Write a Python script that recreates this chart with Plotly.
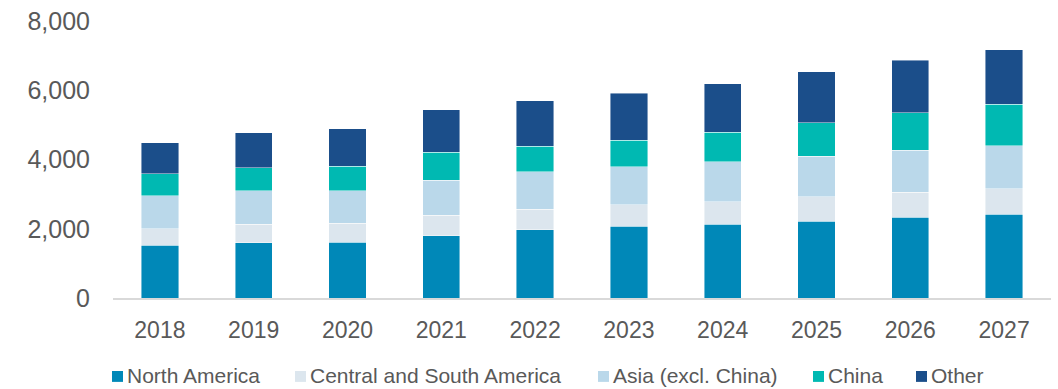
import plotly.graph_objects as go

# Annual volumes by region (stacked)
years = ["2018", "2019", "2020", "2021", "2022", "2023", "2024", "2025", "2026", "2027"]
north_america = [1530, 1595, 1614, 1794, 1966, 2071, 2129, 2223, 2329, 2414]
central_south_america = [475, 534, 543, 600, 591, 629, 657, 706, 722, 743]
asia_excl_china = [952, 962, 934, 1012, 1086, 1086, 1143, 1171, 1220, 1237]
china = [638, 675, 715, 800, 734, 763, 857, 963, 1078, 1200]
other = [896, 1000, 1085, 1237, 1314, 1371, 1400, 1466, 1514, 1572]

y_ticks = [0, 2000, 4000, 6000, 8000]

series = [
    ("North America", north_america, "#0088B8"),
    ("Central and South America", central_south_america, "#DCE6EE"),
    ("Asia (excl. China)", asia_excl_china, "#BAD8EA"),
    ("China", china, "#00B9B2"),
    ("Other", other, "#1B4E8A"),
]

W, H = 1058, 389
L, R, T, B = 113, 7, 18.5, 90.5
plot_w = W - L - R
plot_h = H - T - B

fig = go.Figure()
for name, vals, color in series:
    fig.add_trace(go.Bar(
        x=years, y=vals, name=name,
        marker=dict(color=color, line=dict(color="rgba(255,255,255,0.55)", width=0.8)),
        showlegend=False,
    ))

font_family = "Liberation Sans, Arial, sans-serif"
grey = "#595959"

fig.update_layout(
    width=W, height=H,
    margin=dict(l=L, r=R, t=T, b=B, pad=0),
    barmode="stack",
    bargap=0.602,
    plot_bgcolor="white",
    paper_bgcolor="white",
    font=dict(family=font_family, color=grey),
    xaxis=dict(
        showline=True, linecolor="#D9D9D9", linewidth=2,
        ticks="", showgrid=False, zeroline=False,
        tickfont=dict(size=23, color=grey, family=font_family),
        ticklabelstandoff=10,
    ),
    yaxis=dict(
        range=[0, 8000], tickvals=y_ticks, tickformat=",",
        showgrid=False, zeroline=False, showline=False, ticks="",
        tickfont=dict(size=25, color=grey, family=font_family),
        ticklabelstandoff=22,
    ),
)

# Legend drawn below the axis: square swatch followed by label
legend_x = [112, 295, 598, 813, 916]
legend_cy = 377.8
sq = 11
for (name, _, color), px in zip(series, legend_x):
    x0 = (px - L) / plot_w
    x1 = (px + sq - L) / plot_w
    y0 = (H - B - (legend_cy + sq / 2)) / plot_h
    y1 = (H - B - (legend_cy - sq / 2)) / plot_h
    fig.add_shape(type="rect", xref="paper", yref="paper",
                  x0=x0, x1=x1, y0=y0, y1=y1,
                  fillcolor=color, line=dict(width=0))
    fig.add_annotation(
        text=name, xref="paper", yref="paper",
        x=(px + sq + 3 - L) / plot_w,
        y=(H - B - 376.5) / plot_h,
        xanchor="left", yanchor="middle", showarrow=False,
        font=dict(size=21, color=grey, family=font_family),
        borderpad=0,
    )

fig.write_html("out.html")
